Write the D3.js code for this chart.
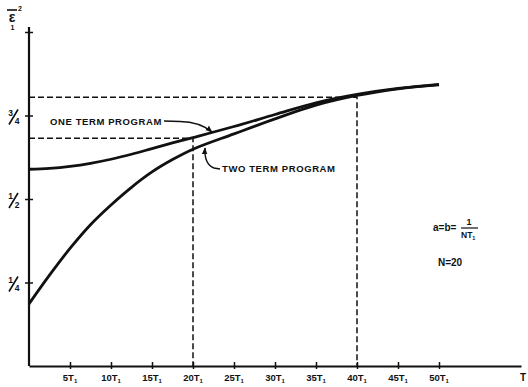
<!DOCTYPE html>
<html>
<head>
<meta charset="utf-8">
<script src="https://cdn.jsdelivr.net/npm/d3@7"></script>
<style>
  html, body { margin: 0; padding: 0; background: #fff; }
  svg { display: block; }
  text { font-family: "Liberation Sans", Arial, sans-serif; font-weight: bold; fill: #111; }
</style>
</head>
<body>
<svg id="chart" width="528" height="387"></svg>
<script>
// Time in units of T1
const times = [0, 2.5, 5, 7.5, 10, 12.5, 15, 17.5, 20, 25, 30, 35, 40, 45, 50];
// Mean squared error, one term program
const oneTerm = [0.589, 0.592, 0.598, 0.607, 0.619, 0.634, 0.651, 0.668, 0.684, 0.717, 0.753, 0.788, 0.813, 0.831, 0.842];
// Mean squared error, two term program
const twoTerm = [0.186, 0.272, 0.352, 0.423, 0.482, 0.535, 0.581, 0.618, 0.649, 0.695, 0.740, 0.781, 0.810, 0.830, 0.843];
// Reference levels marked with dashed guides
const guideT = [20, 40];
const guideV = [0.682, 0.805];
// Axis ticks
const xTicks = [5, 10, 15, 20, 25, 30, 35, 40, 45, 50];
const xTickNums = ["5", "10", "15", "20", "25", "30", "35", "40", "45", "50"];
const yTicks = [0.25, 0.5, 0.75, 1];
const yTickLabels = [["1", "4"], ["1", "2"], ["3", "4"], null];

const svg = d3.select("#chart");
const x = d3.scaleLinear().domain([0, 60]).range([29, 521]);
const y = d3.scaleLinear().domain([0, 1]).range([366, 32]);

// dashed guide lines
const guides = svg.append("g")
  .attr("stroke", "#111").attr("stroke-width", 1.5)
  .attr("stroke-dasharray", "6,3").attr("fill", "none");
guideT.forEach((t, i) => {
  guides.append("path")
    .attr("d", d3.line()([[x(0), y(guideV[i])], [x(t), y(guideV[i])], [x(t), y(0)]]));
});

// axes
const xAxis = svg.append("g")
  .attr("transform", `translate(0,${y(0)})`)
  .call(d3.axisBottom(x).tickValues(xTicks).tickSizeOuter(0).tickSizeInner(0).tickFormat(""));
xAxis.select(".domain").attr("stroke", "#111").attr("stroke-width", 2.2);
xAxis.selectAll(".tick line").attr("y1", -4).attr("y2", 3).attr("stroke", "#111").attr("stroke-width", 1.5);

const yAxis = svg.append("g")
  .attr("transform", `translate(${x(0)},0)`)
  .call(d3.axisLeft(y).tickValues(yTicks).tickSizeOuter(0).tickSizeInner(0).tickFormat(""));
yAxis.select(".domain").attr("d", `M0,${y(0)}V27`).attr("stroke", "#111").attr("stroke-width", 2.2);
yAxis.selectAll(".tick line").attr("x1", -4).attr("x2", 4).attr("stroke", "#111").attr("stroke-width", 1.5);

// x tick labels: nT with subscript 1
const xl = svg.append("g").selectAll("text").data(xTicks).join("text")
  .attr("x", d => x(d)).attr("y", 380.5)
  .attr("text-anchor", "middle").attr("font-size", 9.5);
xl.append("tspan").text((d, i) => xTickNums[i] + "T");
xl.append("tspan").attr("font-size", 6).attr("dy", 2.5).text("1");
svg.append("text").attr("x", x(60) + 2).attr("y", 380.5)
  .attr("text-anchor", "middle").attr("font-size", 10).text("T");

// y tick labels as stacked fractions with a slanted bar
yTicks.forEach((v, i) => {
  const f = yTickLabels[i];
  if (!f) return;
  const g = svg.append("g").attr("transform", `translate(${x(0)},${y(v)})`);
  g.append("text").attr("x", -18.5).attr("y", 0).attr("text-anchor", "middle").attr("font-size", 8.5).text(f[0]);
  g.append("path").attr("d", "M-20,9L-11,-6").attr("stroke", "#111").attr("stroke-width", 1.6);
  g.append("text").attr("x", -12).attr("y", 8.5).attr("text-anchor", "middle").attr("font-size", 8.5).text(f[1]);
});

// y axis title: mean squared error epsilon-bar squared, subscript 1
const yt = svg.append("g");
yt.append("line").attr("x1", 7).attr("x2", 17).attr("y1", 10).attr("y2", 10).attr("stroke", "#111").attr("stroke-width", 1.6);
yt.append("text").attr("x", 12).attr("y", 22).attr("text-anchor", "middle").attr("font-size", 14).text("\u03b5");
yt.append("text").attr("x", 20).attr("y", 11).attr("text-anchor", "middle").attr("font-size", 7).text("2");
yt.append("text").attr("x", 12.5).attr("y", 29.5).attr("text-anchor", "middle").attr("font-size", 7).text("1");

// curves
const line = d3.line().x((d, i) => x(times[i])).y(d => y(d)).curve(d3.curveCatmullRom);
svg.append("path").attr("d", line(oneTerm)).attr("fill", "none").attr("stroke", "#111").attr("stroke-width", 2.8);
svg.append("path").attr("d", line(twoTerm)).attr("fill", "none").attr("stroke", "#111").attr("stroke-width", 2.8);

// arrowhead marker
svg.append("defs").append("marker")
  .attr("id", "arrow").attr("viewBox", "0 0 10 10").attr("refX", 9).attr("refY", 5)
  .attr("markerWidth", 7).attr("markerHeight", 7).attr("markerUnits", "userSpaceOnUse")
  .attr("orient", "auto")
  .append("path").attr("d", "M0,1L10,5L0,9Z").attr("fill", "#111");

// curve labels with leaders
svg.append("text").attr("x", 50).attr("y", 125).attr("font-size", 9.5).attr("letter-spacing", 0.6).text("ONE TERM PROGRAM");
svg.append("path").attr("d", "M164,121 L180,121.5 Q200,122 212,132")
  .attr("fill", "none").attr("stroke", "#111").attr("stroke-width", 1.4).attr("marker-end", "url(#arrow)");

svg.append("text").attr("x", 222).attr("y", 172).attr("font-size", 9.5).attr("letter-spacing", 0.6).text("TWO TERM PROGRAM");
svg.append("path").attr("d", "M220,169 L214,168 Q204,164 205,148")
  .attr("fill", "none").attr("stroke", "#111").attr("stroke-width", 1.4).attr("marker-end", "url(#arrow)");

// parameter notes
const note = svg.append("g");
note.append("text").attr("x", 433).attr("y", 231).attr("font-size", 10).text("a=b=");
note.append("text").attr("x", 469).attr("y", 225).attr("text-anchor", "middle").attr("font-size", 9).text("1");
note.append("line").attr("x1", 461).attr("x2", 478).attr("y1", 228).attr("y2", 228).attr("stroke", "#111").attr("stroke-width", 1.2);
const nt = note.append("text").attr("x", 461).attr("y", 238).attr("font-size", 8.5);
nt.append("tspan").text("NT");
nt.append("tspan").attr("font-size", 5.5).attr("dy", 2).text("1");
note.append("text").attr("x", 438).attr("y", 266).attr("font-size", 10).text("N=20");
</script>
</body>
</html>
